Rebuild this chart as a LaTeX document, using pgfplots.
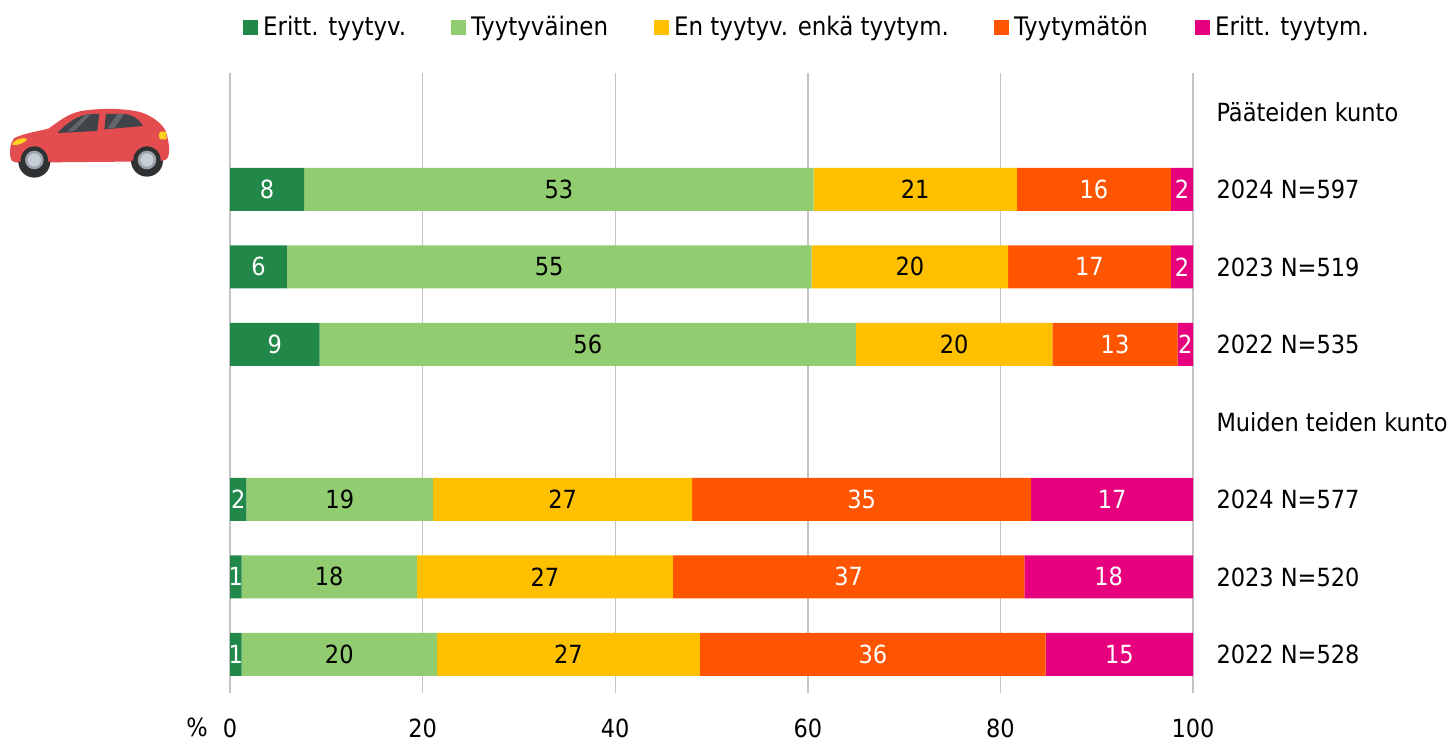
\documentclass[border=0pt]{standalone}
\usepackage{pgfplots}
\usepackage{pgfplotstable}
\usepackage{fontspec}
\pgfplotsset{compat=1.18}
\setmainfont{DejaVu Sans Condensed}
\definecolor{cA}{HTML}{21884A}
\definecolor{cB}{HTML}{91CC70}
\definecolor{cC}{HTML}{FFC000}
\definecolor{cD}{HTML}{FF5500}
\definecolor{cE}{HTML}{E6007E}
\definecolor{gridc}{HTML}{C4C4C4}
\definecolor{carred}{HTML}{E34D4F}
\definecolor{carglass}{HTML}{404348}
\definecolor{carstripe}{HTML}{62656B}
\definecolor{caryellow}{HTML}{FFD21F}
\definecolor{cartyre}{HTML}{2F3133}
\definecolor{carhub}{HTML}{C5CDD6}
\definecolor{carhubd}{HTML}{9AA1A8}
\pgfplotstableread{
row a b c d e
1 7.7 52.9 21.1 16.0 2.3
2 5.9 54.5 20.4 16.9 2.3
3 9.3 55.7 20.4 13.0 1.6
5 1.7 19.4 26.9 35.2 16.8
6 1.2 18.2 26.6 36.5 17.5
7 1.2 20.3 27.3 35.9 15.3
}\roadtable
\pgfplotsset{
 sq/.style={legend image code/.code={\fill[#1] (0pt,-7.5pt) rectangle (15pt,7.5pt);}},
}
\newcommand{\lgbox}[2]{\makebox[#1pt][l]{\hspace*{5pt}#2}}
\begin{document}
\begin{tikzpicture}[x=1pt,y=1pt]
\useasboundingbox (0,0) rectangle (1448,741);
\begin{axis}[
 at={(230pt,48pt)},anchor=south west,
 scale only axis,width=963pt,height=620pt,
 xbar stacked,bar width=43pt,
 xmin=0,xmax=100,ymin=-0.5,ymax=7.5,y dir=reverse,
 xtick={0,20,40,60,80,100},
 ytick={0,1,2,3,4,5,6,7},
 yticklabels={Pääteiden kunto,2024 N=597,2023 N=519,2022 N=535,Muiden teiden kunto,2024 N=577,2023 N=520,2022 N=528},
 yticklabel pos=right,
 yticklabel style={anchor=west,font=\fontsize{25}{28}\selectfont,xshift=20pt,text depth=0pt},
 xticklabel style={font=\fontsize{25}{28}\selectfont,yshift=-22pt},
 /pgf/number format/assume math mode=true,
 major tick length=0pt,
 axis line style={draw=none},
 xmajorgrids,
 grid style={gridc,line width=1.4pt},
 clip=false,
 nodes near coords,
 point meta=explicit,
 nodes near coords style={font=\fontsize{25}{28}\selectfont,/pgf/number format/fixed,/pgf/number format/precision=0},
 legend columns=-1,
 legend cell align=left,
 legend style={at={(0,1)},anchor=west,yshift=46pt,xshift=13pt,draw=none,fill=none,inner sep=0pt,
  font=\fontsize{25.5}{28}\selectfont,
  nodes={inner sep=0pt},
  /tikz/every even column/.style={column sep=7pt},
  /tikz/every odd column/.style={column sep=0pt}},
]
\addplot[fill=cA,draw=none,sq=cA,nodes near coords style={text=white}] table[x=a,y=row,meta=a]{\roadtable};
\addlegendentry{\lgbox{186}{Eritt. tyytyv.}}
\addplot[fill=cB,draw=none,sq=cB,nodes near coords style={text=black}] table[x=b,y=row,meta=b]{\roadtable};
\addlegendentry{\lgbox{181}{Tyytyväinen}}
\addplot[fill=cC,draw=none,sq=cC,nodes near coords style={text=black}] table[x=c,y=row,meta=c]{\roadtable};
\addlegendentry{\lgbox{318}{En tyytyv. enkä tyytym.}}
\addplot[fill=cD,draw=none,sq=cD,nodes near coords style={text=white}] table[x=d,y=row,meta=d]{\roadtable};
\addlegendentry{\lgbox{179}{Tyytymätön}}
\addplot[fill=cE,draw=none,sq=cE,nodes near coords style={text=white}] table[x=e,y=row,meta=e]{\roadtable};
\addlegendentry{\lgbox{160}{Eritt. tyytym.}}
\end{axis}
\node[font=\fontsize{25}{28}\selectfont,anchor=base,text depth=0pt] at (197,4) {\%};
% car pictogram
\begin{scope}[x=0.3333pt,y=-0.3333pt,shift={(0pt,651pt)}]
\fill[carred] (32,205) .. controls (28,180) and (30,160) .. (42,145) .. controls (70,130) and (110,125) .. (145,116) .. controls (170,100) and (200,70) .. (250,62) .. controls (310,54) and (370,55) .. (420,66) .. controls (460,78) and (490,105) .. (498,125) .. controls (505,150) and (510,175) .. (506,195) .. controls (504,208) and (495,212) .. (480,214) -- (60,218) .. controls (45,218) and (34,215) .. (32,205) -- cycle;
\fill[carglass] (172,129) .. controls (195,105) and (225,80) .. (262,73) -- (298,71) -- (292,123) -- cycle;
\fill[carglass] (318,72) -- (375,72) .. controls (400,75) and (420,90) .. (429,108) -- (313,118) -- cycle;
\fill[carstripe] (202,125) -- (255,75) -- (272,73) -- (225,122) -- cycle;
\fill[carstripe] (322,116) -- (352,72) -- (372,72) -- (345,113) -- cycle;
\fill[caryellow] (38,160) .. controls (45,148) and (70,140) .. (82,147) .. controls (78,158) and (50,168) .. (38,165) -- cycle;
\fill[caryellow] (480,125) -- (498,125) -- (500,148) -- (480,148) .. controls (475,140) and (475,132) .. (480,125) -- cycle;
\fill[cartyre] (55,215) arc[start angle=180,end angle=0,radius=48] -- cycle;
\fill[cartyre] (393,212) arc[start angle=180,end angle=0,radius=48] -- cycle;
\foreach \cx/\cy in {103/210,441/210}{
 \fill[cartyre] (\cx,\cy) circle[radius=41];
 \fill[carhubd] (\cx,\cy) circle[radius=28];
 \fill[carhub] (\cx,\cy) circle[radius=20];
}
\end{scope}
\end{tikzpicture}
\end{document}
